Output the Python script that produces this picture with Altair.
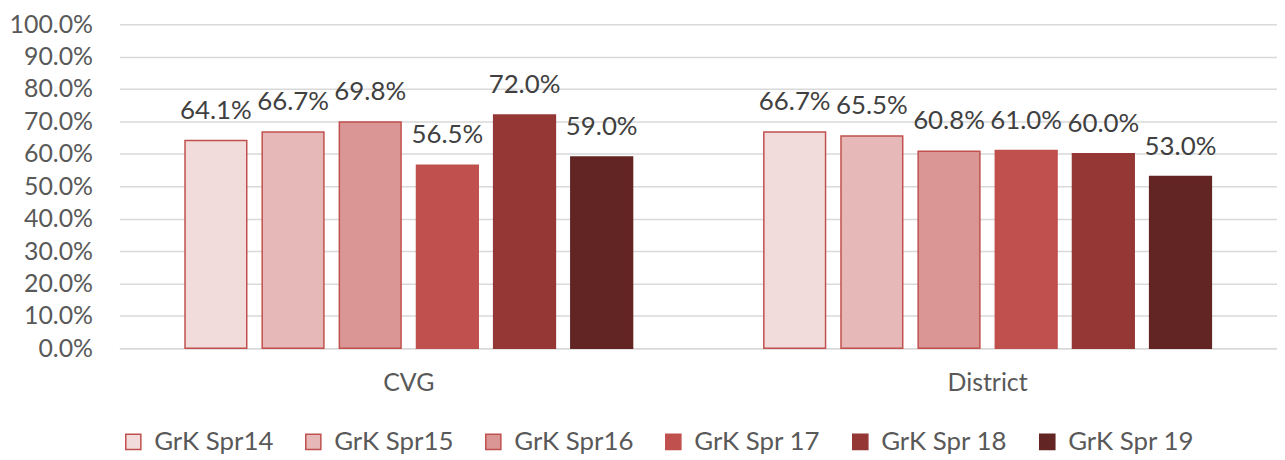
import altair as alt
import pandas as pd

categories = ["CVG", "District"]
series = ["GrK Spr14", "GrK Spr15", "GrK Spr16", "GrK Spr 17", "GrK Spr 18", "GrK Spr 19"]
cvg_values = [0.641, 0.667, 0.698, 0.565, 0.720, 0.590]
district_values = [0.667, 0.655, 0.608, 0.610, 0.600, 0.530]
fill_colors = ["#F2DCDB", "#E6B9B8", "#D99694", "#C0504D", "#953735", "#632523"]
stroke_colors = ["#C0504D", "#C0504D", "#C0504D", "#C0504D", "#953735", "#632523"]

rows = []
for cat, vals in zip(categories, [cvg_values, district_values]):
    for s, v in zip(series, vals):
        rows.append({"cat": cat, "series": s, "value": v})
df = pd.DataFrame(rows)

FONT = "Lato"

x = alt.X("cat:N", sort=categories, title=None,
          scale=alt.Scale(paddingInner=0.2268, paddingOuter=0.1134),
          axis=alt.Axis(labelAngle=0, labelFontSize=25, labelColor="#595959", labelFont=FONT,
                        ticks=False, domainColor="#D9D9D9", domainWidth=1.5, labelPadding=22))
xoff = alt.XOffset("series:N", sort=series,
                   scale=alt.Scale(paddingInner=0.2, paddingOuter=0))
y = alt.Y("value:Q", title=None,
          scale=alt.Scale(domain=[0, 1]),
          axis=alt.Axis(format=".1%", values=[i / 10 for i in range(11)], labelFontSize=25,
                        labelColor="#595959", labelFont=FONT, ticks=False, domain=False,
                        gridColor="#D9D9D9", gridWidth=1.5, labelPadding=27))

base = alt.Chart(df)

bars = base.mark_bar(strokeWidth=1.5).encode(
    x=x, xOffset=xoff, y=y,
    fill=alt.Fill("series:N", sort=series, title=None,
                  scale=alt.Scale(domain=series, range=fill_colors),
                  legend=alt.Legend(orient="none", legendX=1, legendY=407, padding=0,
                                    direction="horizontal", symbolType="square",
                                    symbolSize=230, symbolStrokeWidth=1.5, labelFontSize=26,
                                    labelFont=FONT, labelColor="#595959", columnPadding=27,
                                    labelOffset=8)),
    stroke=alt.Stroke("series:N", sort=series, title=None,
                      scale=alt.Scale(domain=series, range=stroke_colors)),
)

labels = base.mark_text(baseline="bottom", dy=-17, fontSize=26, font=FONT, color="#404040").encode(
    x=x, xOffset=xoff, y=y,
    text=alt.Text("value:Q", format=".1%"),
)

chart = (bars + labels).properties(
    width=1164, height=326,
    autosize=alt.AutoSizeParams(type="none"),
    padding={"left": 112, "top": 15, "right": 0, "bottom": 109},
).configure_view(stroke=None)

chart.save("out.html", embed_options={"renderer": "svg", "actions": False})
